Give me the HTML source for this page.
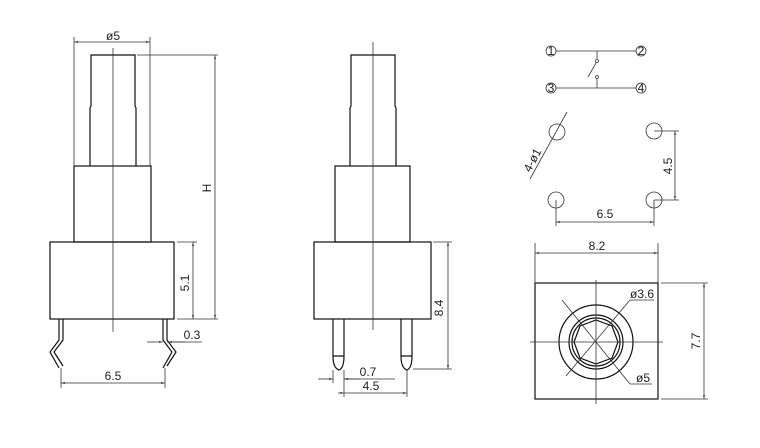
<!DOCTYPE html>
<html><head><style>body{margin:0;background:#fff}svg{display:block}text{font-family:"Liberation Sans",sans-serif;font-size:12px;fill:#222}</style></head><body>
<svg width="760" height="448" viewBox="0 0 760 448" xmlns="http://www.w3.org/2000/svg">
<defs><marker id="a" viewBox="0 0 10 10" refX="10" refY="5" markerWidth="6" markerHeight="5" orient="auto-start-reverse"><path d="M0,2L10,5L0,8z" fill="#555"/></marker></defs>
<g fill="none" stroke="#111" stroke-width="1.2">
<path d="M90,166V108L91,106V55H135V106L136,108V166"/>
<rect x="74" y="166" width="77" height="76"/>
<rect x="50" y="242" width="124" height="77"/>
<path d="M59,319V340L50,352L59,368M63,319V340L54,352L63,366"/>
<path d="M163,319V340L172,352L163,368M167,319V340L176,352L167,366"/>
<path d="M350,166V108L351,106V55H395V106L396,108V166"/>
<rect x="335" y="166" width="75" height="76"/>
<rect x="314" y="242" width="117" height="77"/>
<path d="M333,319V356Q333,368 339,370Q344,368 344,356V319M333,356H344"/>
<path d="M401,319V356Q401,368 407,370Q412,368 412,356V319M401,356H412"/>
<rect x="535" y="283" width="123" height="116"/>
<circle cx="596" cy="342" r="37"/>
<circle cx="596" cy="342" r="27"/>
<circle cx="596" cy="342" r="24"/>
<polygon points="618,342 612,358 596,364 580,358 574,342 580,326 596,320 612,326"/>
</g>
<g fill="none" stroke="#333" stroke-width="0.8">
<line x1="113" y1="48" x2="113" y2="332"/>
<line x1="373" y1="42" x2="373" y2="330"/>
<line x1="74" y1="37" x2="74" y2="166"/><line x1="150" y1="37" x2="150" y2="166"/>
<line x1="74" y1="42" x2="150" y2="42" marker-start="url(#a)" marker-end="url(#a)"/>
<line x1="137" y1="55" x2="218" y2="55"/><line x1="177" y1="319" x2="218" y2="319"/>
<line x1="215" y1="55" x2="215" y2="319" marker-start="url(#a)" marker-end="url(#a)"/>
<line x1="177" y1="242" x2="197" y2="242"/>
<line x1="193" y1="242" x2="193" y2="319" marker-start="url(#a)" marker-end="url(#a)"/>
<line x1="147" y1="342" x2="163" y2="342" marker-end="url(#a)"/><line x1="167" y1="342" x2="202" y2="342"/><line x1="185" y1="342" x2="168" y2="342" marker-end="url(#a)"/>
<line x1="61" y1="368" x2="61" y2="388"/><line x1="165" y1="368" x2="165" y2="388"/>
<line x1="61" y1="383" x2="165" y2="383" marker-start="url(#a)" marker-end="url(#a)"/>
<line x1="433" y1="242" x2="452" y2="242"/><line x1="413" y1="369" x2="452" y2="369"/>
<line x1="448" y1="242" x2="448" y2="369" marker-start="url(#a)" marker-end="url(#a)"/>
<line x1="333" y1="370" x2="333" y2="383"/><line x1="344" y1="370" x2="344" y2="397"/><line x1="407" y1="370" x2="407" y2="397"/>
<line x1="318" y1="379" x2="333" y2="379" marker-end="url(#a)"/><line x1="360" y1="379" x2="344" y2="379" marker-end="url(#a)"/><line x1="344" y1="379" x2="395" y2="379"/>
<line x1="338" y1="393" x2="407" y2="393" marker-start="url(#a)" marker-end="url(#a)"/>
<circle cx="551" cy="51" r="5"/><circle cx="641" cy="51" r="5"/><circle cx="551" cy="88" r="5"/><circle cx="641" cy="88" r="5"/>
<line x1="556" y1="51" x2="636" y2="51"/><line x1="556" y1="88" x2="636" y2="88"/>
<line x1="597" y1="51" x2="597" y2="59"/><circle cx="597" cy="61" r="1.5"/><line x1="588" y1="77" x2="596" y2="63"/>
<circle cx="597" cy="77" r="1.5"/><line x1="597" y1="79" x2="597" y2="88"/>
<circle cx="557" cy="132" r="8"/><circle cx="654" cy="131" r="8"/><circle cx="556" cy="200" r="8"/><circle cx="654" cy="200" r="8"/>
<line x1="530" y1="179" x2="567" y2="112"/>
<line x1="654" y1="131" x2="679" y2="131"/><line x1="654" y1="200" x2="679" y2="200"/>
<line x1="675" y1="131" x2="675" y2="200" marker-start="url(#a)" marker-end="url(#a)"/>
<line x1="556" y1="200" x2="556" y2="226"/><line x1="654" y1="200" x2="654" y2="226"/>
<line x1="556" y1="222" x2="654" y2="222" marker-start="url(#a)" marker-end="url(#a)"/>
<line x1="535" y1="243" x2="535" y2="283"/><line x1="658" y1="243" x2="658" y2="283"/>
<line x1="535" y1="253" x2="658" y2="253" marker-start="url(#a)" marker-end="url(#a)"/>
<line x1="661" y1="283" x2="708" y2="283"/><line x1="661" y1="399" x2="708" y2="399"/>
<line x1="704" y1="283" x2="704" y2="399" marker-start="url(#a)" marker-end="url(#a)"/>
<line x1="530" y1="342" x2="663" y2="342"/><line x1="596" y1="280" x2="596" y2="404"/>
<line x1="562" y1="300" x2="630" y2="384"/><line x1="566" y1="376" x2="630" y2="300"/>
<line x1="630" y1="300" x2="654" y2="300"/><line x1="630" y1="384" x2="652" y2="384"/>
</g>
<text x="113" y="40" text-anchor="middle">ø5</text>
<text transform="translate(211,188) rotate(-90)" text-anchor="middle">H</text>
<text transform="translate(189,283) rotate(-90)" text-anchor="middle">5.1</text>
<text x="192" y="339" text-anchor="middle">0.3</text>
<text x="113" y="380" text-anchor="middle">6.5</text>
<text transform="translate(443,308) rotate(-90)" text-anchor="middle">8.4</text>
<text x="368" y="376" text-anchor="middle">0.7</text>
<text x="371" y="390" text-anchor="middle">4.5</text>
<text x="551" y="55" text-anchor="middle" font-size="9">1</text>
<text x="641" y="55" text-anchor="middle" font-size="9">2</text>
<text x="551" y="92" text-anchor="middle" font-size="9">3</text>
<text x="641" y="92" text-anchor="middle" font-size="9">4</text>
<text transform="translate(536,162) rotate(-62)" text-anchor="middle">4-ø1</text>
<text transform="translate(672,166) rotate(-90)" text-anchor="middle">4.5</text>
<text x="605" y="218" text-anchor="middle">6.5</text>
<text x="597" y="250" text-anchor="middle">8.2</text>
<text transform="translate(700,341) rotate(-90)" text-anchor="middle">7.7</text>
<text x="642" y="298" text-anchor="middle">ø3.6</text>
<text x="643" y="382" text-anchor="middle">ø5</text>
</svg>
</body></html>
